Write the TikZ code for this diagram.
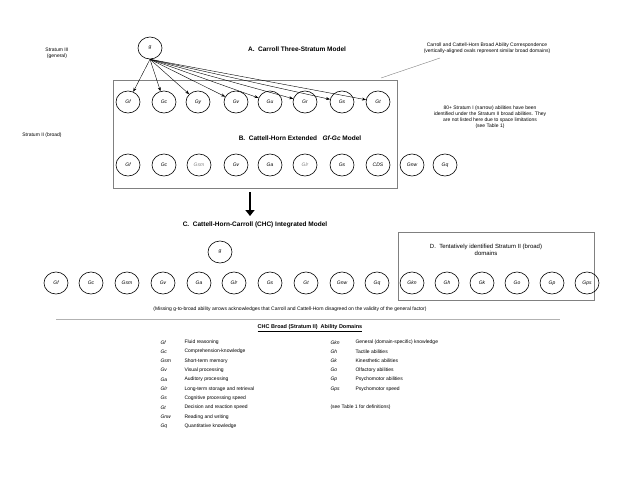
\documentclass[tikz,border=0pt]{standalone}
\usepackage{fontspec}
\setmainfont{Liberation Sans}
\usetikzlibrary{shapes.geometric,arrows.meta}
\begin{document}
\begin{tikzpicture}[x=1pt,y=-1pt,
 ov/.style={draw,line width=0.6pt,ellipse,minimum width=24pt,minimum height=22pt,inner sep=0pt,font=\fontsize{5}{6}\selectfont\itshape},
 gov/.style={ov,text=gray},
 small/.style={font=\fontsize{5}{6}\selectfont,align=center},
 ttl/.style={font=\fontsize{6.5}{8}\selectfont\bfseries},
 ar/.style={-{Stealth[length=4pt]},thin},
 box/.style={draw=gray,thick}]
\useasboundingbox (0,0) rectangle (621,480);
\node[small] (s3) at (57,53) {Stratum III\\(general)};
\node[small] (s2) at (42,135) {Stratum II (broad)};
\node[ov] (g) at (150,48) {g};
\node[ttl] (ta) at (297,49) {A.\ \ Carroll Three-Stratum Model};
\node[small] (note) at (487,48) {Carroll and Cattell-Horn Broad Ability Correspondence\\(vertically-aligned ovals represent similar broad domains)};
\draw[box] (113,80) rectangle (397,188);
\coordinate (n1) at (440,58); \coordinate (n2) at (381,78);
\draw[gray] (n1) -- (n2);
\foreach \n/\x in {Gf/128,Gc/164,Gy/198,Gv/236,Gu/270,Gr/305,Gs/342,Gt/378}{
 \node[ov] (a\n) at (\x,102) {\n};
 \draw[ar] (g.south) -- (a\n);}
\node[small] (n80) at (490,117) {80+ Stratum I (narrow) abilities have been\\identified under the Stratum II broad abilities. They\\are not listed here due to space limitations\\(see Table 1)};
\node[ttl] (tb) at (300,138) {B.\ \ Cattell-Horn Extended\ \ \ \textit{Gf-Gc} Model};
\foreach \n/\x/\s in {Gf/128/ov,Gc/164/ov,Gsm/199/gov,Gv/236/ov,Ga/270/ov,Glr/305/gov,Gs/342/ov,CDS/378/ov,Gnw/412/ov,Gq/445/ov}
 \node[\s] (b\n) at (\x,165) {\n};
\coordinate (ar1) at (250,192); \coordinate (ar2) at (250,216);
\draw[line width=2.5pt,-{Triangle[length=6pt,width=9pt]}] (ar1) -- (ar2);
\node[ttl] (tc) at (255,225) {C.\ \ Cattell-Horn-Carroll (CHC) Integrated Model};
\node[ov] (g2) at (220,252) {g};
\draw[box] (398,232) rectangle (594,300);
\node[small,font=\fontsize{6}{7}\selectfont] (td) at (486,250) {D.\ \ Tentatively identified Stratum II (broad)\\domains};
\foreach \n/\x in {Gf/56,Gc/91,Gsm/127,Gv/163,Ga/199,Glr/234,Gs/270,Gt/306,Gnw/342,Gq/377,Gkn/412,Gh/447,Gk/482,Go/517,Gp/552,Gps/587}
 \node[ov] (c\n) at (\x,283) {\n};
\node[small] (miss) at (290,309) {(Missing g-to-broad ability arrows acknowledges that Carroll and Cattell-Horn disagreed on the validity of the general factor)};
\coordinate (l1) at (56,319); \coordinate (l2) at (560,319);
\draw[gray!60,thick] (l1) -- (l2);
\node[font=\fontsize{5.5}{7}\selectfont\bfseries] (th) at (310,328) {\underline{CHC Broad (Stratum II)\ \ Ability Domains}};
\foreach \a/\d [count=\i] in {Gf/Fluid reasoning,Gc/Comprehension-knowledge,Gsm/Short-term memory,Gv/Visual processing,Ga/Auditory processing,Glr/Long-term storage and retrieval,Gs/Cognitive processing speed,Gt/Decision and reaction speed,Gnw/Reading and writing,Gq/Quantitative knowledge}{
 \node[small,anchor=west,font=\fontsize{5}{6}\selectfont\itshape] (la\i) at (157,333+9.3*\i) {\a};
 \node[small,anchor=west] (ld\i) at (181,333+9.3*\i) {\d};}
\foreach \a/\d [count=\i] in {Gkn/General (domain-specific) knowledge,Gh/Tactile abilities,Gk/Kinesthetic abilities,Go/Olfactory abilities,Gp/Psychomotor abilities,Gps/Psychomotor speed}{
 \node[small,anchor=west,font=\fontsize{5}{6}\selectfont\itshape] (ra\i) at (327,333+9.3*\i) {\a};
 \node[small,anchor=west] (rd\i) at (352,333+9.3*\i) {\d};}
\node[small,anchor=west] (see) at (327,333+9.3*8) {(see Table 1 for definitions)};
\end{tikzpicture}
\end{document}
